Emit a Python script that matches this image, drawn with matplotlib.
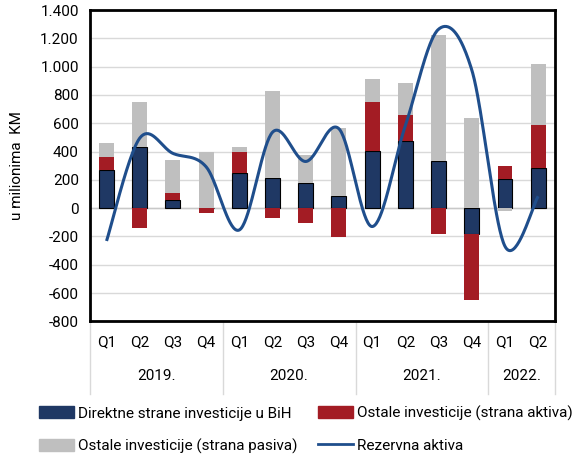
import matplotlib
matplotlib.use("Agg")
import matplotlib.pyplot as plt
import numpy as np
from matplotlib.lines import Line2D
from matplotlib.patches import Patch
from matplotlib.ticker import FuncFormatter

plt.rcParams['font.family'] = ['Roboto', 'DejaVu Sans']

quarters = ['Q1', 'Q2', 'Q3', 'Q4', 'Q1', 'Q2', 'Q3', 'Q4', 'Q1', 'Q2', 'Q3', 'Q4', 'Q1', 'Q2']
years = ['2019.', '2020.', '2021.', '2022.']
year_len = [4, 4, 4, 2]

dsi = [268, 430, 61, 0, 251, 211, 175, 89, 401, 477, 334, -182, 204, 287]
ost_aktiva = [95, -137, 47, -33, 143, -70, -108, -204, 350, 179, -182, -468, 95, 302]
ost_pasiva = [98, 323, 231, 400, 40, 620, 200, 477, 163, 228, 891, 639, -20, 429]
rezerve = [-232, 495, 387, 292, -154, 537, 330, 561, -130, 584, 1265, 977, -270, 84]

c_navy = '#1f3864'
c_red = '#a31c24'
c_gray = '#bfbfbf'
c_line = '#1f4e8c'

fig = plt.figure(figsize=(5.84, 4.59), dpi=100)
ax = fig.add_axes([0.154, 0.30, 0.796, 0.678])

x = np.arange(len(quarters))
w = 0.45
pos_base = np.zeros(len(x))
neg_base = np.zeros(len(x))
series = [(dsi, c_navy, 'black', 0.8), (ost_aktiva, c_red, 'none', 0),
          (ost_pasiva, c_gray, 'none', 0)]
for vals, col, ec, lw in series:
    v = np.array(vals, dtype=float)
    base = np.where(v >= 0, pos_base, neg_base)
    ax.bar(x, v, w, bottom=base, color=col, edgecolor=ec, linewidth=lw, zorder=3)
    pos_base += np.where(v >= 0, v, 0)
    neg_base += np.where(v < 0, v, 0)

# smoothed line (Catmull-Rom, like spreadsheet smoothing)
r = np.array(rezerve, dtype=float)
pts = np.column_stack([x, r])
ext = np.vstack([pts[0], pts, pts[-1]])
cx, cy = [], []
t = np.linspace(0, 1, 40)
for i in range(len(pts) - 1):
    p0, p1, p2, p3 = ext[i], ext[i + 1], ext[i + 2], ext[i + 3]
    b1 = p1 + (p2 - p0) / 6
    b2 = p2 - (p3 - p1) / 6
    seg = ((1 - t) ** 3)[:, None] * p1 + (3 * (1 - t) ** 2 * t)[:, None] * b1 \
        + (3 * (1 - t) * t ** 2)[:, None] * b2 + (t ** 3)[:, None] * p2
    cx.extend(seg[:, 0])
    cy.extend(seg[:, 1])
ax.plot(cx, cy, color=c_line, linewidth=2.2, zorder=4, solid_capstyle='butt')

ax.set_xlim(-0.5, len(x) - 0.5)
ax.set_ylim(-800, 1400)
ax.set_yticks(np.arange(-800, 1401, 200))
ax.yaxis.set_major_formatter(FuncFormatter(lambda v, p: f'{v:,.0f}'.replace(',', '.')))
ax.grid(axis='y', color='#d9d9d9', linewidth=1, zorder=0)
ax.axhline(0, color='#c8c8c8', linewidth=1, zorder=2)
for s in ax.spines.values():
    s.set_linewidth(2)
    s.set_color('black')
ax.tick_params(axis='y', length=0, labelsize=11, pad=8)
ax.tick_params(axis='x', length=0, labelsize=11, pad=10)
ax.set_xticks(x)
ax.set_xticklabels(quarters)
ax.set_ylabel('u milionima  KM', fontsize=11, labelpad=12)

# year labels and group separators under the axis
trans = ax.get_xaxis_transform()
edge = -0.5
for yr, n in zip(years, year_len):
    ax.add_line(Line2D([edge, edge], [0, -0.235], transform=trans, color='#d9d9d9',
                       linewidth=1, clip_on=False))
    ax.text(edge + n / 2, -0.175, yr, transform=trans, ha='center', va='center', fontsize=11)
    edge += n
ax.add_line(Line2D([edge, edge], [0, -0.235], transform=trans, color='#d9d9d9',
                   linewidth=1, clip_on=False))

# ordered so that the two legend columns read row by row
handles = [Patch(color=c_navy, label='Direktne strane investicije u BiH'),
           Patch(color=c_gray, label='Ostale investicije (strana pasiva)'),
           Patch(color=c_red, label='Ostale investicije (strana aktiva)'),
           Line2D([0], [0], color=c_line, linewidth=2, label='Rezervna aktiva')]
fig.legend(handles=handles, loc='center left', bbox_to_anchor=(0.066, 0.064), ncol=2,
           frameon=False, fontsize=11, handlelength=2.3, handleheight=0.8,
           columnspacing=1.3, handletextpad=0.3, labelspacing=1.15,
           borderpad=0, borderaxespad=0)

fig.savefig('out.png', dpi=100)
